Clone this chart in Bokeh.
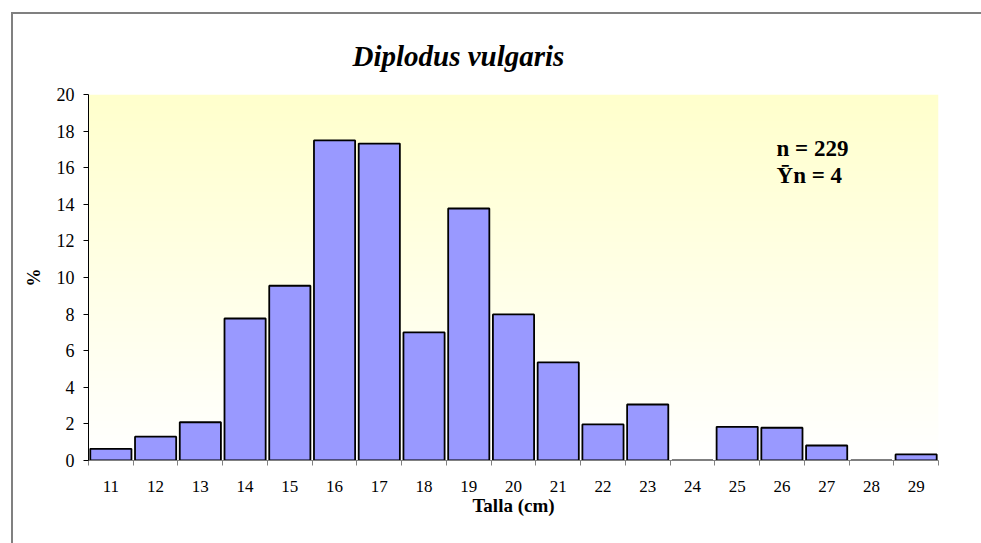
import numpy as np
from bokeh.plotting import figure
from bokeh.models import Range1d, FixedTicker, Label, ColumnDataSource, Div
from bokeh.layouts import column
from bokeh.embed import file_html
from bokeh.resources import INLINE

# Data
sizes = [11, 12, 13, 14, 15, 16, 17, 18, 19, 20, 21, 22, 23, 24, 25, 26, 27, 28, 29]
percent = [0.64, 1.30, 2.09, 7.76, 9.55, 17.49, 17.32, 7.00, 13.77, 7.98, 5.36,
           1.97, 3.06, 0.0, 1.84, 1.79, 0.82, 0.0, 0.33]
y_ticks = [0, 2, 4, 6, 8, 10, 12, 14, 16, 18, 20]
title_text = "Diplodus vulgaris"
n_text = "n = 229"
yn_text = "\u0232n = 4"

serif = "Liberation Serif"

x_lo = sizes[0] - 0.5
x_hi = sizes[-1] + 0.5
boundaries = [s - 0.5 for s in sizes] + [x_hi]

p = figure(width=975, height=536, output_backend="svg", toolbar_location=None,
           x_range=Range1d(x_lo, x_hi), y_range=Range1d(y_ticks[0], y_ticks[-1]),
           min_border_left=88, min_border_right=37, min_border_top=94, min_border_bottom=76)

p.background_fill_color = "white"
p.border_fill_color = "white"
p.outline_line_color = None
p.xgrid.visible = False
p.ygrid.visible = False

# title
p.title.text = title_text
p.title.text_font = serif
p.title.text_font_style = "bold italic"
p.title.text_font_size = "29px"
p.title.text_color = "black"
p.title.align = "left"
p.title.offset = 264
p.title.vertical_align = "middle"
p.title.standoff = 44

# gradient background (light yellow at top to white at bottom)
rows = 256
t = np.linspace(0, 1, rows)  # 0 bottom -> 1 top
img = np.empty((rows, 1), dtype=np.uint32)
view = img.view(dtype=np.uint8).reshape((rows, 1, 4))
view[:, 0, 0] = 255
view[:, 0, 1] = 255
view[:, 0, 2] = np.round(255 - (255 - 204) * t).astype(np.uint8)
view[:, 0, 3] = 255
p.image_rgba(image=[img], x=x_lo, y=y_ticks[0], dw=x_hi - x_lo,
             dh=y_ticks[-1] - y_ticks[0], level="image")

src = ColumnDataSource(dict(x=sizes, top=percent))
p.vbar(x="x", top="top", width=0.92, bottom=0, source=src,
       fill_color="#9999FF", line_color="black", line_width=1.8)

# x axis
xa = p.xaxis[0]
xa.ticker = FixedTicker(ticks=sizes, minor_ticks=boundaries)
xa.major_tick_line_color = None
xa.minor_tick_out = 5
xa.minor_tick_in = 0
xa.minor_tick_line_color = "#808080"
xa.axis_line_color = "#808080"
xa.major_label_text_font = serif
xa.major_label_text_font_size = "17px"
xa.major_label_text_color = "black"
xa.major_label_standoff = 14
xa.axis_label = "Talla (cm)"
xa.axis_label_text_font = serif
xa.axis_label_text_font_style = "bold"
xa.axis_label_text_font_size = "19px"
xa.axis_label_text_color = "black"
xa.axis_label_standoff = 0

# y axis
ya = p.yaxis[0]
ya.ticker = FixedTicker(ticks=y_ticks)
ya.minor_tick_line_color = None
ya.major_tick_out = 5
ya.major_tick_in = 0
ya.axis_line_color = "black"
ya.major_tick_line_color = "black"
ya.major_label_text_font = serif
ya.major_label_text_font_size = "18px"
ya.major_label_text_color = "black"
ya.major_label_standoff = 9
ya.axis_label = "%"
ya.axis_label_text_font = serif
ya.axis_label_text_font_style = "bold"
ya.axis_label_text_font_size = "18px"
ya.axis_label_text_color = "black"
ya.axis_label_standoff = 10

# annotation (data units)
p.add_layout(Label(x=25.88, y=17.05, text=n_text,
                   text_font=serif, text_font_style="bold", text_font_size="23px",
                   text_align="left", text_baseline="alphabetic", text_color="black"))
p.add_layout(Label(x=25.88, y=15.57, text=yn_text,
                   text_font=serif, text_font_style="bold", text_font_size="23px",
                   text_align="left", text_baseline="alphabetic", text_color="black"))

# outer chart-area frame (top and left edges visible, as in the reference)
frame_div = Div(text='<div style="position:fixed;left:11px;top:12px;right:-40px;bottom:-40px;'
                     'border-left:2px solid #808080;border-top:2px solid #808080;'
                     'pointer-events:none;"></div>',
                width=1, height=1, margin=0)

layout = column(p, frame_div, spacing=0, margin=0)

open("out.html", "w").write(file_html(layout, INLINE))
